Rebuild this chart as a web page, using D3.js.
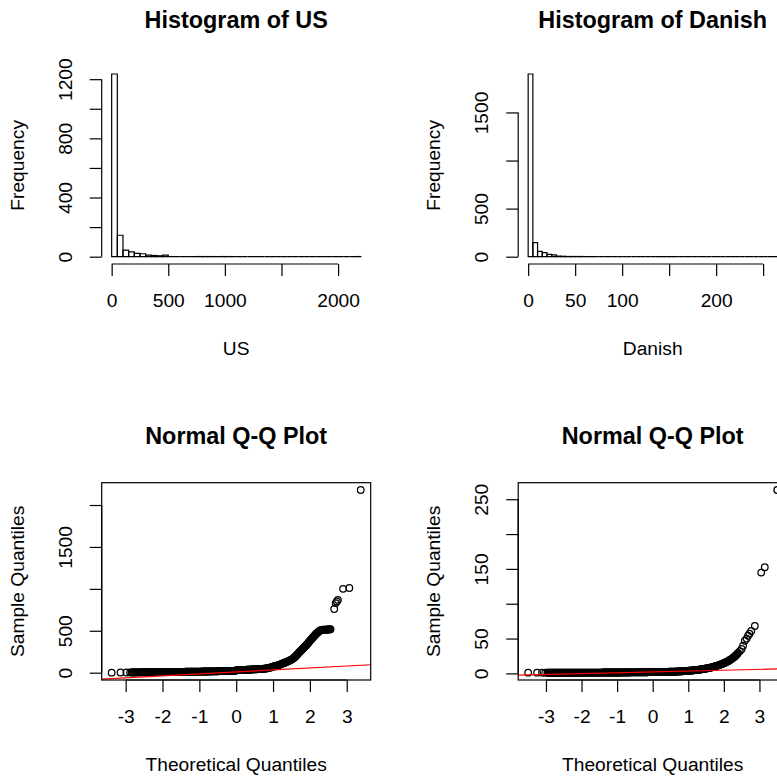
<!DOCTYPE html>
<html lang="en">
<head>
<meta charset="utf-8">
<script src="https://d3js.org/d3.v7.min.js"></script>
<style type="text/css">
body { margin: 0; background: #fff; }
svg { display: block; font-family: "Liberation Sans", Arial, sans-serif; }
.tick line, .domain { stroke-width: 1.2; }
</style>
</head>
<body>
<script type="text/javascript">

// ---- histogram counts (US bins of 50, Danish bins of 5) ----
var usBinWidth = 50;
var usCounts = [1235,145,45,32,22,20,10,8,6,10,
                0,0,0,0,0,1,1,1,0,1,
                1,0,0,0,0,0,0,0,0,0,
                0,0,0,0,0,0,0,0,0,0,
                0,0,0,1];
var dkBinWidth = 5;
var dkCounts = [1900,146,56,42,25,18,6,4,2,2,
                2,2,0,1,0,0,0,0,0,0,
                0,0,0,0,0,0,0,0,1,0,
                1,0,0,0,0,0,0,0,0,0,
                0,0,0,0,0,0,0,0,0,0,
                0,0,1];

// ---- tick values and labels (R drops labels that would overlap) ----
var usHistXTicks = [0,500,1000,1500,2000];
var usHistXLabels = ["0","500","1000","","2000"];
var usHistYTicks = [0,200,400,600,800,1000,1200];
var usHistYLabels = ["0","","400","","800","","1200"];
var dkHistXTicks = [0,50,100,150,200,250];
var dkHistXLabels = ["0","50","100","","200",""];
var dkHistYTicks = [0,500,1000,1500];
var dkHistYLabels = ["0","500","","1500"];
var qqXTicks = [-3,-2,-1,0,1,2,3];
var qqXLabels = ["-3","-2","-1","0","1","2","3"];
var usQQYTicks = [0,500,1000,1500,2000];
var usQQYLabels = ["0","500","","1500",""];
var dkQQYTicks = [0,50,100,150,200,250];
var dkQQYLabels = ["0","50","","150","","250"];

// ---- Q-Q points: theoretical quantile / sample quantile ----
var usTheo = [-3.38,-3.14,-2.98,-2.88,
  -2.84,-2.82,-2.80,-2.78,-2.76,-2.74,-2.72,-2.70,-2.68,-2.66,
  -2.64,-2.62,-2.60,-2.58,-2.56,-2.54,-2.52,-2.50,-2.48,-2.46,
  -2.44,-2.42,-2.40,-2.38,-2.36,-2.34,-2.32,-2.30,-2.28,-2.26,
  -2.24,-2.22,-2.20,-2.18,-2.16,-2.14,-2.12,-2.10,-2.08,-2.06,
  -2.04,-2.02,-2.00,-1.98,-1.96,-1.94,-1.92,-1.90,-1.88,-1.86,
  -1.84,-1.82,-1.80,-1.78,-1.76,-1.74,-1.72,-1.70,-1.68,-1.66,
  -1.64,-1.62,-1.60,-1.58,-1.56,-1.54,-1.52,-1.50,-1.48,-1.46,
  -1.44,-1.42,-1.40,-1.38,-1.36,-1.34,-1.32,-1.30,-1.28,-1.26,
  -1.24,-1.22,-1.20,-1.18,-1.16,-1.14,-1.12,-1.10,-1.08,-1.06,
  -1.04,-1.02,-1.00,-0.98,-0.96,-0.94,-0.92,-0.90,-0.88,-0.86,
  -0.84,-0.82,-0.80,-0.78,-0.76,-0.74,-0.72,-0.70,-0.68,-0.66,
  -0.64,-0.62,-0.60,-0.58,-0.56,-0.54,-0.52,-0.50,-0.48,-0.46,
  -0.44,-0.42,-0.40,-0.38,-0.36,-0.34,-0.32,-0.30,-0.28,-0.26,
  -0.24,-0.22,-0.20,-0.18,-0.16,-0.14,-0.12,-0.10,-0.08,-0.06,
  -0.04,-0.02,0.00,0.02,0.04,0.06,0.08,0.10,0.12,0.14,
  0.16,0.18,0.20,0.22,0.24,0.26,0.28,0.30,0.32,0.34,
  0.36,0.38,0.40,0.42,0.44,0.46,0.48,0.50,0.52,0.54,
  0.56,0.58,0.60,0.62,0.64,0.66,0.68,0.70,0.72,0.74,
  0.76,0.78,0.80,0.82,0.84,0.86,0.88,0.90,0.92,0.94,
  0.96,0.98,1.00,1.02,1.04,1.06,1.08,1.10,1.12,1.14,
  1.16,1.18,1.20,1.22,1.24,1.26,1.28,1.30,1.32,1.34,
  1.36,1.38,1.40,1.42,1.44,1.46,1.48,1.50,1.52,1.54,
  1.56,1.58,1.60,1.62,1.64,1.66,1.68,1.70,1.72,1.74,
  1.76,1.78,1.80,1.82,1.84,1.86,1.88,1.90,1.92,1.94,
  1.96,1.98,2.00,2.02,2.04,2.06,2.08,2.10,2.12,2.14,
  2.16,2.18,2.20,2.22,2.24,2.26,2.28,2.30,2.32,2.34,
  2.36,2.38,2.40,2.42,2.44,2.46,2.48,2.50,2.52,2.54,
  2.56,
  2.66,2.70,2.73,2.76,2.90,3.07,3.38];
var usSample = [0,2,2,3,
  3,3,3,3,3,3,4,4,4,4,
  4,4,4,4,5,5,5,5,5,5,
  5,5,5,6,6,6,6,6,6,6,
  6,6,6,7,7,7,7,7,7,7,
  7,7,7,7,8,8,8,8,8,8,
  8,8,8,8,9,9,9,9,9,9,
  9,9,9,10,10,10,10,10,10,10,
  10,10,10,11,11,11,11,11,11,11,
  11,12,12,12,12,12,12,12,13,13,
  13,13,13,13,13,13,14,14,14,14,
  14,14,14,15,15,15,15,15,15,16,
  16,16,16,16,16,17,17,17,17,18,
  18,18,18,18,19,19,19,19,20,20,
  20,20,21,21,21,22,22,22,22,22,
  22,22,30,30,30,30,31,31,31,31,
  32,32,33,33,34,34,35,35,36,36,
  37,37,38,38,39,39,40,40,40,41,
  41,42,42,43,43,44,44,45,46,47,
  48,49,50,51,53,55,57,59,61,63,
  66,69,72,75,78,80,82,84,87,90,
  92,96,100,103,106,110,113,117,120,124,
  127,131,135,139,143,147,151,156,162,168,
  175,182,190,199,208,218,228,238,248,257,
  266,275,283,292,300,309,318,327,337,347,
  358,369,380,390,400,410,420,430,440,449,
  458,467,475,483,490,497,503,507,510,511,
  512,512,513,513,514,514,515,515,516,517,
  518,
  760,830,850,868,1000,1010,2179];
var usLine = [9.5, 23.4];   // qqline intercept, slope

var dkTheo = [-3.50,-3.25,-3.11,-3.02,
  -2.96,-2.94,-2.92,-2.90,-2.88,-2.86,-2.84,-2.82,-2.80,-2.78,
  -2.76,-2.74,-2.72,-2.70,-2.68,-2.66,-2.64,-2.62,-2.60,-2.58,
  -2.56,-2.54,-2.52,-2.50,-2.48,-2.46,-2.44,-2.42,-2.40,-2.38,
  -2.36,-2.34,-2.32,-2.30,-2.28,-2.26,-2.24,-2.22,-2.20,-2.18,
  -2.16,-2.14,-2.12,-2.10,-2.08,-2.06,-2.04,-2.02,-2.00,-1.98,
  -1.96,-1.94,-1.92,-1.90,-1.88,-1.86,-1.84,-1.82,-1.80,-1.78,
  -1.76,-1.74,-1.72,-1.70,-1.68,-1.66,-1.64,-1.62,-1.60,-1.58,
  -1.56,-1.54,-1.52,-1.50,-1.48,-1.46,-1.44,-1.42,-1.40,-1.38,
  -1.36,-1.34,-1.32,-1.30,-1.28,-1.26,-1.24,-1.22,-1.20,-1.18,
  -1.16,-1.14,-1.12,-1.10,-1.08,-1.06,-1.04,-1.02,-1.00,-0.98,
  -0.96,-0.94,-0.92,-0.90,-0.88,-0.86,-0.84,-0.82,-0.80,-0.78,
  -0.76,-0.74,-0.72,-0.70,-0.68,-0.66,-0.64,-0.62,-0.60,-0.58,
  -0.56,-0.54,-0.52,-0.50,-0.48,-0.46,-0.44,-0.42,-0.40,-0.38,
  -0.36,-0.34,-0.32,-0.30,-0.28,-0.26,-0.24,-0.22,-0.20,-0.18,
  -0.16,-0.14,-0.12,-0.10,-0.08,-0.06,-0.04,-0.02,0.00,0.02,
  0.04,0.06,0.08,0.10,0.12,0.14,0.16,0.18,0.20,0.22,
  0.24,0.26,0.28,0.30,0.32,0.34,0.36,0.38,0.40,0.42,
  0.44,0.46,0.48,0.50,0.52,0.54,0.56,0.58,0.60,0.62,
  0.64,0.66,0.68,0.70,0.72,0.74,0.76,0.78,0.80,0.82,
  0.84,0.86,0.88,0.90,0.92,0.94,0.96,0.98,1.00,1.02,
  1.04,1.06,1.08,1.10,1.12,1.14,1.16,1.18,1.20,1.22,
  1.24,1.26,1.28,1.30,1.32,1.34,1.36,1.38,1.40,1.42,
  1.44,1.46,1.48,1.50,1.52,1.54,1.56,1.58,1.60,1.62,
  1.64,1.66,1.68,1.70,1.72,1.74,1.76,1.78,1.80,1.82,
  1.84,1.86,1.88,1.90,1.92,1.94,1.96,1.98,2.00,2.02,
  2.04,2.06,2.08,2.10,2.12,2.14,2.16,2.18,2.20,2.22,
  2.24,2.26,2.28,2.30,2.32,2.34,2.36,2.38,2.40,
  2.45,2.50,2.54,2.59,2.64,2.68,2.72,2.77,2.87,3.05,3.15,3.50];
var dkSample = [1,1,1,1,
  1,1,1,1,1,1,1,1,1,1,
  1,1,1,1,1,1,1,1,1,1,
  1.02,1.02,1.02,1.02,1.03,1.03,1.03,1.03,1.04,1.04,
  1.04,1.04,1.05,1.05,1.05,1.05,1.06,1.06,1.06,1.06,
  1.07,1.07,1.07,1.07,1.08,1.08,1.08,1.09,1.09,1.1,
  1.1,1.1,1.1,1.1,1.1,1.11,1.11,1.11,1.12,1.12,
  1.12,1.13,1.13,1.13,1.14,1.14,1.15,1.15,1.16,1.16,
  1.17,1.17,1.18,1.18,1.19,1.19,1.2,1.2,1.21,1.21,
  1.22,1.22,1.23,1.23,1.24,1.24,1.25,1.25,1.26,1.26,
  1.27,1.27,1.28,1.28,1.29,1.29,1.3,1.3,1.31,1.31,
  1.32,1.32,1.33,1.34,1.35,1.35,1.36,1.37,1.38,1.39,
  1.4,1.4,1.41,1.42,1.43,1.44,1.45,1.46,1.47,1.48,
  1.49,1.5,1.51,1.52,1.53,1.54,1.55,1.56,1.57,1.58,
  1.59,1.6,1.61,1.62,1.63,1.64,1.65,1.66,1.67,1.68,
  1.69,1.7,1.71,1.72,1.73,1.74,1.76,1.77,1.78,1.8,
  1.81,1.83,1.85,1.87,1.88,1.9,1.92,1.94,1.96,1.98,
  2.0,2.02,2.05,2.08,2.1,2.12,2.15,2.18,2.2,2.23,
  2.26,2.29,2.32,2.35,2.38,2.41,2.45,2.48,2.52,2.56,
  2.6,2.64,2.68,2.73,2.78,2.83,2.88,2.93,2.98,3.04,
  3.1,3.17,3.25,3.32,3.4,3.5,3.6,3.7,3.8,3.85,
  3.9,4.0,4.1,4.2,4.3,4.4,4.5,4.6,4.7,4.8,
  4.9,5.05,5.2,5.35,5.5,5.65,5.8,5.95,6.1,6.25,
  6.4,6.6,6.8,7.0,7.2,7.4,7.6,7.8,8.0,8.25,
  8.5,8.75,9.0,9.3,9.6,9.9,10.2,10.5,10.8,11.15,
  11.5,11.85,12.2,12.6,13.0,13.4,13.8,14.25,14.7,15.15,
  15.6,16.1,16.6,17.15,17.7,18.3,18.9,19.55,20.2,20.9,
  21.6,22.4,23.2,24.1,25.0,26.0,27.0,28.2,29.5,
  32,35,39.7,46.8,50,54,57,61,68,144.7,152.4,263.25];
var dkLine = [2.15, 1.22];

// ---- layout (the original 2x2 figure was wider than the window) ----
var width = 777, height = 777;
var panelW = 416.5, panelH = 416;
var plotL = 101.7, plotT = 66.7, plotW = 269, plotH = 197.3;
var fontSize = 19.2, titleSize = 23.4;

var svg = d3.select("body").append("svg")
    .attr("width", width)
    .attr("height", height);
svg.append("rect").attr("width", width).attr("height", height).attr("fill", "#fff");

function panel(col, row) {
    return svg.append("g")
        .attr("transform", "translate(" + (col * panelW + plotL) + "," + (row * panelH + plotT) + ")");
}

// R-style 4% range expansion
function expand(lo, hi) {
    var d = (hi - lo) * 0.04;
    return [lo - d, hi + d];
}

function addAxes(g, x, y, xTicks, xLabels, yTicks, yLabels) {
    var xa = g.append("g")
        .attr("transform", "translate(0," + plotH + ")")
        .call(d3.axisBottom(x).tickValues(xTicks).tickSize(12)
            .tickFormat(function(d, i) { return xLabels[i]; }));
    xa.attr("font-size", null).attr("font-family", null);
    xa.select(".domain").attr("d", "M" + x(xTicks[0]) + ",0H" + x(xTicks[xTicks.length - 1]));
    xa.selectAll("text").attr("y", 43).attr("dy", null).style("font-size", fontSize + "px");

    var ya = g.append("g")
        .call(d3.axisLeft(y).tickValues(yTicks).tickSize(12)
            .tickFormat(function(d, i) { return yLabels[i]; }));
    ya.attr("font-size", null).attr("font-family", null);
    ya.select(".domain").attr("d", "M0," + y(yTicks[0]) + "V" + y(yTicks[yTicks.length - 1]));
    ya.selectAll("text")
        .attr("x", 0).attr("y", -30).attr("dy", null)
        .attr("text-anchor", "middle")
        .attr("transform", "rotate(-90)")
        .style("font-size", fontSize + "px");
}

function addLabels(g, title, xlab, ylab) {
    g.append("text")
        .attr("x", plotW / 2).attr("y", 27.5 - plotT)
        .attr("text-anchor", "middle")
        .style("font-size", titleSize + "px")
        .style("font-weight", "bold")
        .text(title);
    g.append("text")
        .attr("x", plotW / 2).attr("y", plotH + 91)
        .attr("text-anchor", "middle")
        .style("font-size", fontSize + "px")
        .text(xlab);
    g.append("text")
        .attr("transform", "translate(-78," + (plotH / 2) + ") rotate(-90)")
        .attr("text-anchor", "middle")
        .style("font-size", fontSize + "px")
        .text(ylab);
}

function drawHist(g, counts, binW, xTicks, xLabels, yTicks, yLabels, title, xlab) {
    var x = d3.scaleLinear().domain(expand(0, counts.length * binW)).range([0, plotW]);
    var y = d3.scaleLinear().domain(expand(0, d3.max(counts))).range([plotH, 0]);

    // paths rather than rects so that empty bins still draw their base line
    g.selectAll("path.bar")
        .data(counts)
        .enter()
        .append("path")
        .attr("class", "bar")
        .attr("d", function(d, i) {
            var x0 = x(i * binW), x1 = x((i + 1) * binW);
            return "M" + x0 + "," + y(0) + "V" + y(d) + "H" + x1 + "V" + y(0) + "Z";
        })
        .attr("fill", "none")
        .attr("stroke", "#000")
        .attr("stroke-width", 1.2);

    addAxes(g, x, y, xTicks, xLabels, yTicks, yLabels);
    addLabels(g, title, xlab, "Frequency");
}

function drawQQ(g, id, theo, sample, line, yTicks, yLabels) {
    var x = d3.scaleLinear().domain(expand(d3.min(theo), d3.max(theo))).range([0, plotW]);
    var y = d3.scaleLinear().domain(expand(d3.min(sample), d3.max(sample))).range([plotH, 0]);

    g.append("clipPath").attr("id", id)
        .append("rect").attr("width", plotW).attr("height", plotH);

    g.selectAll("circle")
        .data(theo)
        .enter()
        .append("circle")
        .attr("cx", function(d) { return x(d); })
        .attr("cy", function(d, i) { return y(sample[i]); })
        .attr("r", 3.3)
        .attr("fill", "none")
        .attr("stroke", "#000")
        .attr("stroke-width", 1.25);

    var xd = x.domain();
    g.append("line")
        .attr("clip-path", "url(#" + id + ")")
        .attr("x1", x(xd[0])).attr("y1", y(line[0] + line[1] * xd[0]))
        .attr("x2", x(xd[1])).attr("y2", y(line[0] + line[1] * xd[1]))
        .attr("stroke", "#ff0000")
        .attr("stroke-width", 1.2);

    g.append("rect")
        .attr("width", plotW).attr("height", plotH)
        .attr("fill", "none").attr("stroke", "#000").attr("stroke-width", 1.2);

    addAxes(g, x, y, qqXTicks, qqXLabels, yTicks, yLabels);
    addLabels(g, "Normal Q-Q Plot", "Theoretical Quantiles", "Sample Quantiles");
}

drawHist(panel(0, 0), usCounts, usBinWidth, usHistXTicks, usHistXLabels,
    usHistYTicks, usHistYLabels, "Histogram of US", "US");
drawHist(panel(1, 0), dkCounts, dkBinWidth, dkHistXTicks, dkHistXLabels,
    dkHistYTicks, dkHistYLabels, "Histogram of Danish", "Danish");
drawQQ(panel(0, 1), "clipUS", usTheo, usSample, usLine, usQQYTicks, usQQYLabels);
drawQQ(panel(1, 1), "clipDK", dkTheo, dkSample, dkLine, dkQQYTicks, dkQQYLabels);

</script>
</body>
</html>
